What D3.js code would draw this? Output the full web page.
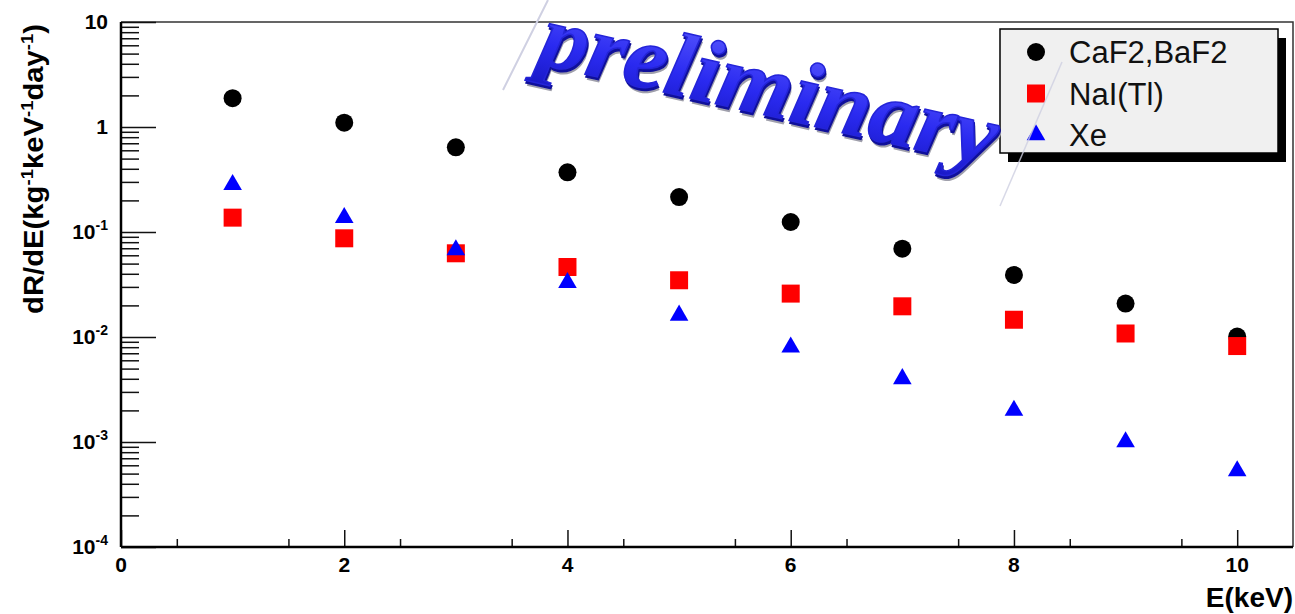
<!DOCTYPE html>
<html>
<head>
<meta charset="utf-8">
<script src="https://cdn.jsdelivr.net/npm/d3@7"></script>
<style>
  html, body { margin: 0; padding: 0; background: #fff; }
  svg { display: block; font-family: "Liberation Sans", Arial, Helvetica, sans-serif; }
</style>
</head>
<body>
<script>
// energy bins (keV)
const energies = [1, 2, 3, 4, 5, 6, 7, 8, 9, 10];

// dR/dE values per target
const caf2 = [1.88, 1.10, 0.640, 0.370, 0.215, 0.1245, 0.0693, 0.0390, 0.0208, 0.0101];
const nai  = [0.137, 0.0871, 0.0627, 0.0464, 0.0347, 0.0259, 0.0196, 0.0146, 0.0108, 0.0082];
const xe   = [0.282, 0.137, 0.0674, 0.0329, 0.0161, 0.0080, 0.0040, 0.0020, 0.0010, 0.00053];

const seriesNames = ["CaF2,BaF2", "NaI(Tl)", "Xe"];

const xTicks = [0, 2, 4, 6, 8, 10];
const yTicks = [1e-4, 1e-3, 1e-2, 1e-1, 1, 10];
const yTickBase = ["10", "10", "10", "10", "1", "10"];
const yTickExp  = ["-4", "-3", "-2", "-1", "", ""];

const W = 1295, H = 614;
const margin = { top: 22, right: 2, bottom: 67, left: 121 };
const w = W - margin.left - margin.right,
      h = H - margin.top - margin.bottom;

const svg = d3.select("body").append("svg")
    .attr("width", W)
    .attr("height", H);

const g = svg.append("g")
    .attr("transform", "translate(" + margin.left + "," + margin.top + ")");

const x = d3.scaleLinear().domain([0, 10.5]).range([0, w]);
const y = d3.scaleLog().domain([1e-4, 10]).range([h, 0]);

// frame (top + right)
g.append("path")
    .attr("d", "M0,0H" + w + "V" + h)
    .attr("fill", "none")
    .attr("stroke", "#333")
    .attr("stroke-width", 1.5);

// y axis minor ticks
g.append("g")
    .call(d3.axisRight(y).tickValues(y.ticks().filter(v => yTicks.indexOf(v) < 0)).tickSize(18).tickFormat(""))
    .call(s => s.select(".domain").remove())
    .selectAll("line").attr("stroke", "#111").attr("stroke-width", 1.5);

// y axis major ticks
g.append("g")
    .call(d3.axisRight(y).tickValues(yTicks).tickSize(35).tickFormat(""))
    .call(s => s.select(".domain").remove())
    .selectAll("line").attr("stroke", "#111").attr("stroke-width", 1.5);

// x axis minor ticks
g.append("g")
    .attr("transform", "translate(0," + h + ")")
    .call(d3.axisTop(x).tickValues(d3.range(0.5, 10.5, 1)).tickSize(8).tickFormat(""))
    .call(s => s.select(".domain").remove())
    .selectAll("line").attr("stroke", "#111").attr("stroke-width", 1.5);

// x axis major ticks
g.append("g")
    .attr("transform", "translate(0," + h + ")")
    .call(d3.axisTop(x).tickValues(xTicks).tickSize(17).tickFormat(""))
    .call(s => s.select(".domain").remove())
    .selectAll("line").attr("stroke", "#111").attr("stroke-width", 1.5);

// axis lines
g.append("line").attr("x1", 0).attr("x2", 0).attr("y1", 0).attr("y2", h)
    .attr("stroke", "#000").attr("stroke-width", 2.5);
g.append("line").attr("x1", 0).attr("x2", w).attr("y1", h).attr("y2", h)
    .attr("stroke", "#000").attr("stroke-width", 2.5);

// x tick labels
g.selectAll(".xlab").data(xTicks).enter().append("text")
    .attr("class", "xlab")
    .attr("x", d => x(d))
    .attr("y", h + 25)
    .attr("text-anchor", "middle")
    .attr("font-size", 21)
    .attr("font-weight", "bold")
    .text(d => d);

// y tick labels
const ylab = g.selectAll(".ylab").data(yTicks).enter().append("text")
    .attr("class", "ylab")
    .attr("x", -13)
    .attr("y", d => y(d) + 7)
    .attr("text-anchor", "end")
    .attr("font-size", 21)
    .attr("font-weight", "bold");
ylab.append("tspan").text((d, i) => yTickBase[i]);
ylab.append("tspan")
    .attr("font-size", 14)
    .attr("dy", -9)
    .text((d, i) => yTickExp[i]);

// axis titles
svg.append("text")
    .attr("x", 1293)
    .attr("y", 607)
    .attr("text-anchor", "end")
    .attr("font-size", 28)
    .attr("font-weight", "bold")
    .text("E(keV)");

const yt = svg.append("text")
    .attr("transform", "translate(43,24) rotate(-90)")
    .attr("text-anchor", "end")
    .attr("font-size", 27)
    .attr("font-weight", "bold")
    .attr("textLength", 290)
    .attr("lengthAdjust", "spacingAndGlyphs");
yt.append("tspan").text("dR/dE(kg");
yt.append("tspan").attr("font-size", 17).attr("dy", -10).text("-1");
yt.append("tspan").attr("dy", 10).text("keV");
yt.append("tspan").attr("font-size", 17).attr("dy", -10).text("-1");
yt.append("tspan").attr("dy", 10).text("day");
yt.append("tspan").attr("font-size", 17).attr("dy", -10).text("-1");
yt.append("tspan").attr("dy", 10).text(")");

// markers
const sym = {
  circle: d3.symbol().type(d3.symbolCircle).size(Math.PI * 9 * 9),
  square: d3.symbol().type(d3.symbolSquare).size(18 * 18),
  triangle: d3.symbol().type(d3.symbolTriangle).size(150)
};

const series = [
  { name: seriesNames[0], values: caf2, color: "#000", shape: sym.circle },
  { name: seriesNames[1], values: nai,  color: "#ff0000", shape: sym.square },
  { name: seriesNames[2], values: xe,   color: "#0000ff", shape: sym.triangle }
];

series.forEach(s => {
  g.selectAll(null).data(energies).enter().append("path")
      .attr("d", s.shape)
      .attr("transform", (d, i) => "translate(" + x(d) + "," + y(s.values[i]) + ")")
      .attr("fill", s.color);
});

// legend
const leg = svg.append("g").attr("transform", "translate(1000,29)");
leg.append("rect").attr("x", 8).attr("y", 9).attr("width", 278).attr("height", 124).attr("fill", "#000");
leg.append("rect").attr("width", 278).attr("height", 124)
    .attr("fill", "#f0f0f0").attr("stroke", "#000").attr("stroke-width", 1.5);

const rows = leg.selectAll(".row").data(series).enter().append("g")
    .attr("transform", (d, i) => "translate(0," + (23 + i * 41.5) + ")");
rows.append("path")
    .attr("d", d => d.shape())
    .attr("transform", "translate(36,0)")
    .attr("fill", d => d.color);
rows.append("text")
    .attr("x", 69)
    .attr("y", 11)
    .attr("font-size", 31)
    .attr("fill", "#111")
    .text(d => d.name);

// "preliminary" overlay, pasted on top (with faint image edges)
svg.append("line").attr("x1", 548).attr("y1", 0).attr("x2", 503).attr("y2", 90)
    .attr("stroke", "#cfd0e2").attr("stroke-width", 2);
svg.append("line").attr("x1", 1062).attr("y1", 62).attr("x2", 1000).attr("y2", 206)
    .attr("stroke", "#cfd0e2").attr("stroke-width", 1.5).attr("opacity", 0.8);

const defs = svg.append("defs");
const grad = defs.append("linearGradient").attr("id", "wm").attr("x1", 0).attr("x2", 0).attr("y1", 0).attr("y2", 1);
grad.append("stop").attr("offset", "0%").attr("stop-color", "#5a5aff");
grad.append("stop").attr("offset", "60%").attr("stop-color", "#2a2af0");
grad.append("stop").attr("offset", "100%").attr("stop-color", "#1a1ac8");

const wm = svg.append("g").attr("transform", "translate(536,63) rotate(12.8)");
const wmText = (dx, dy) => wm.append("text")
    .attr("x", dx).attr("y", dy)
    .attr("font-family", "'Liberation Serif', 'DejaVu Serif', serif")
    .attr("font-style", "italic")
    .attr("font-weight", "bold")
    .attr("font-size", 90)
    .attr("textLength", 466)
    .attr("lengthAdjust", "spacingAndGlyphs")
    .text("preliminary");
wmText(3, 5).attr("fill", "#a0a0ac");
wmText(1.5, 2.5).attr("fill", "#10109a").attr("stroke", "#10109a").attr("stroke-width", 1.5);
wmText(0, 0).attr("fill", "url(#wm)").attr("stroke", "#2424d8").attr("stroke-width", 1.5);
</script>
</body>
</html>
